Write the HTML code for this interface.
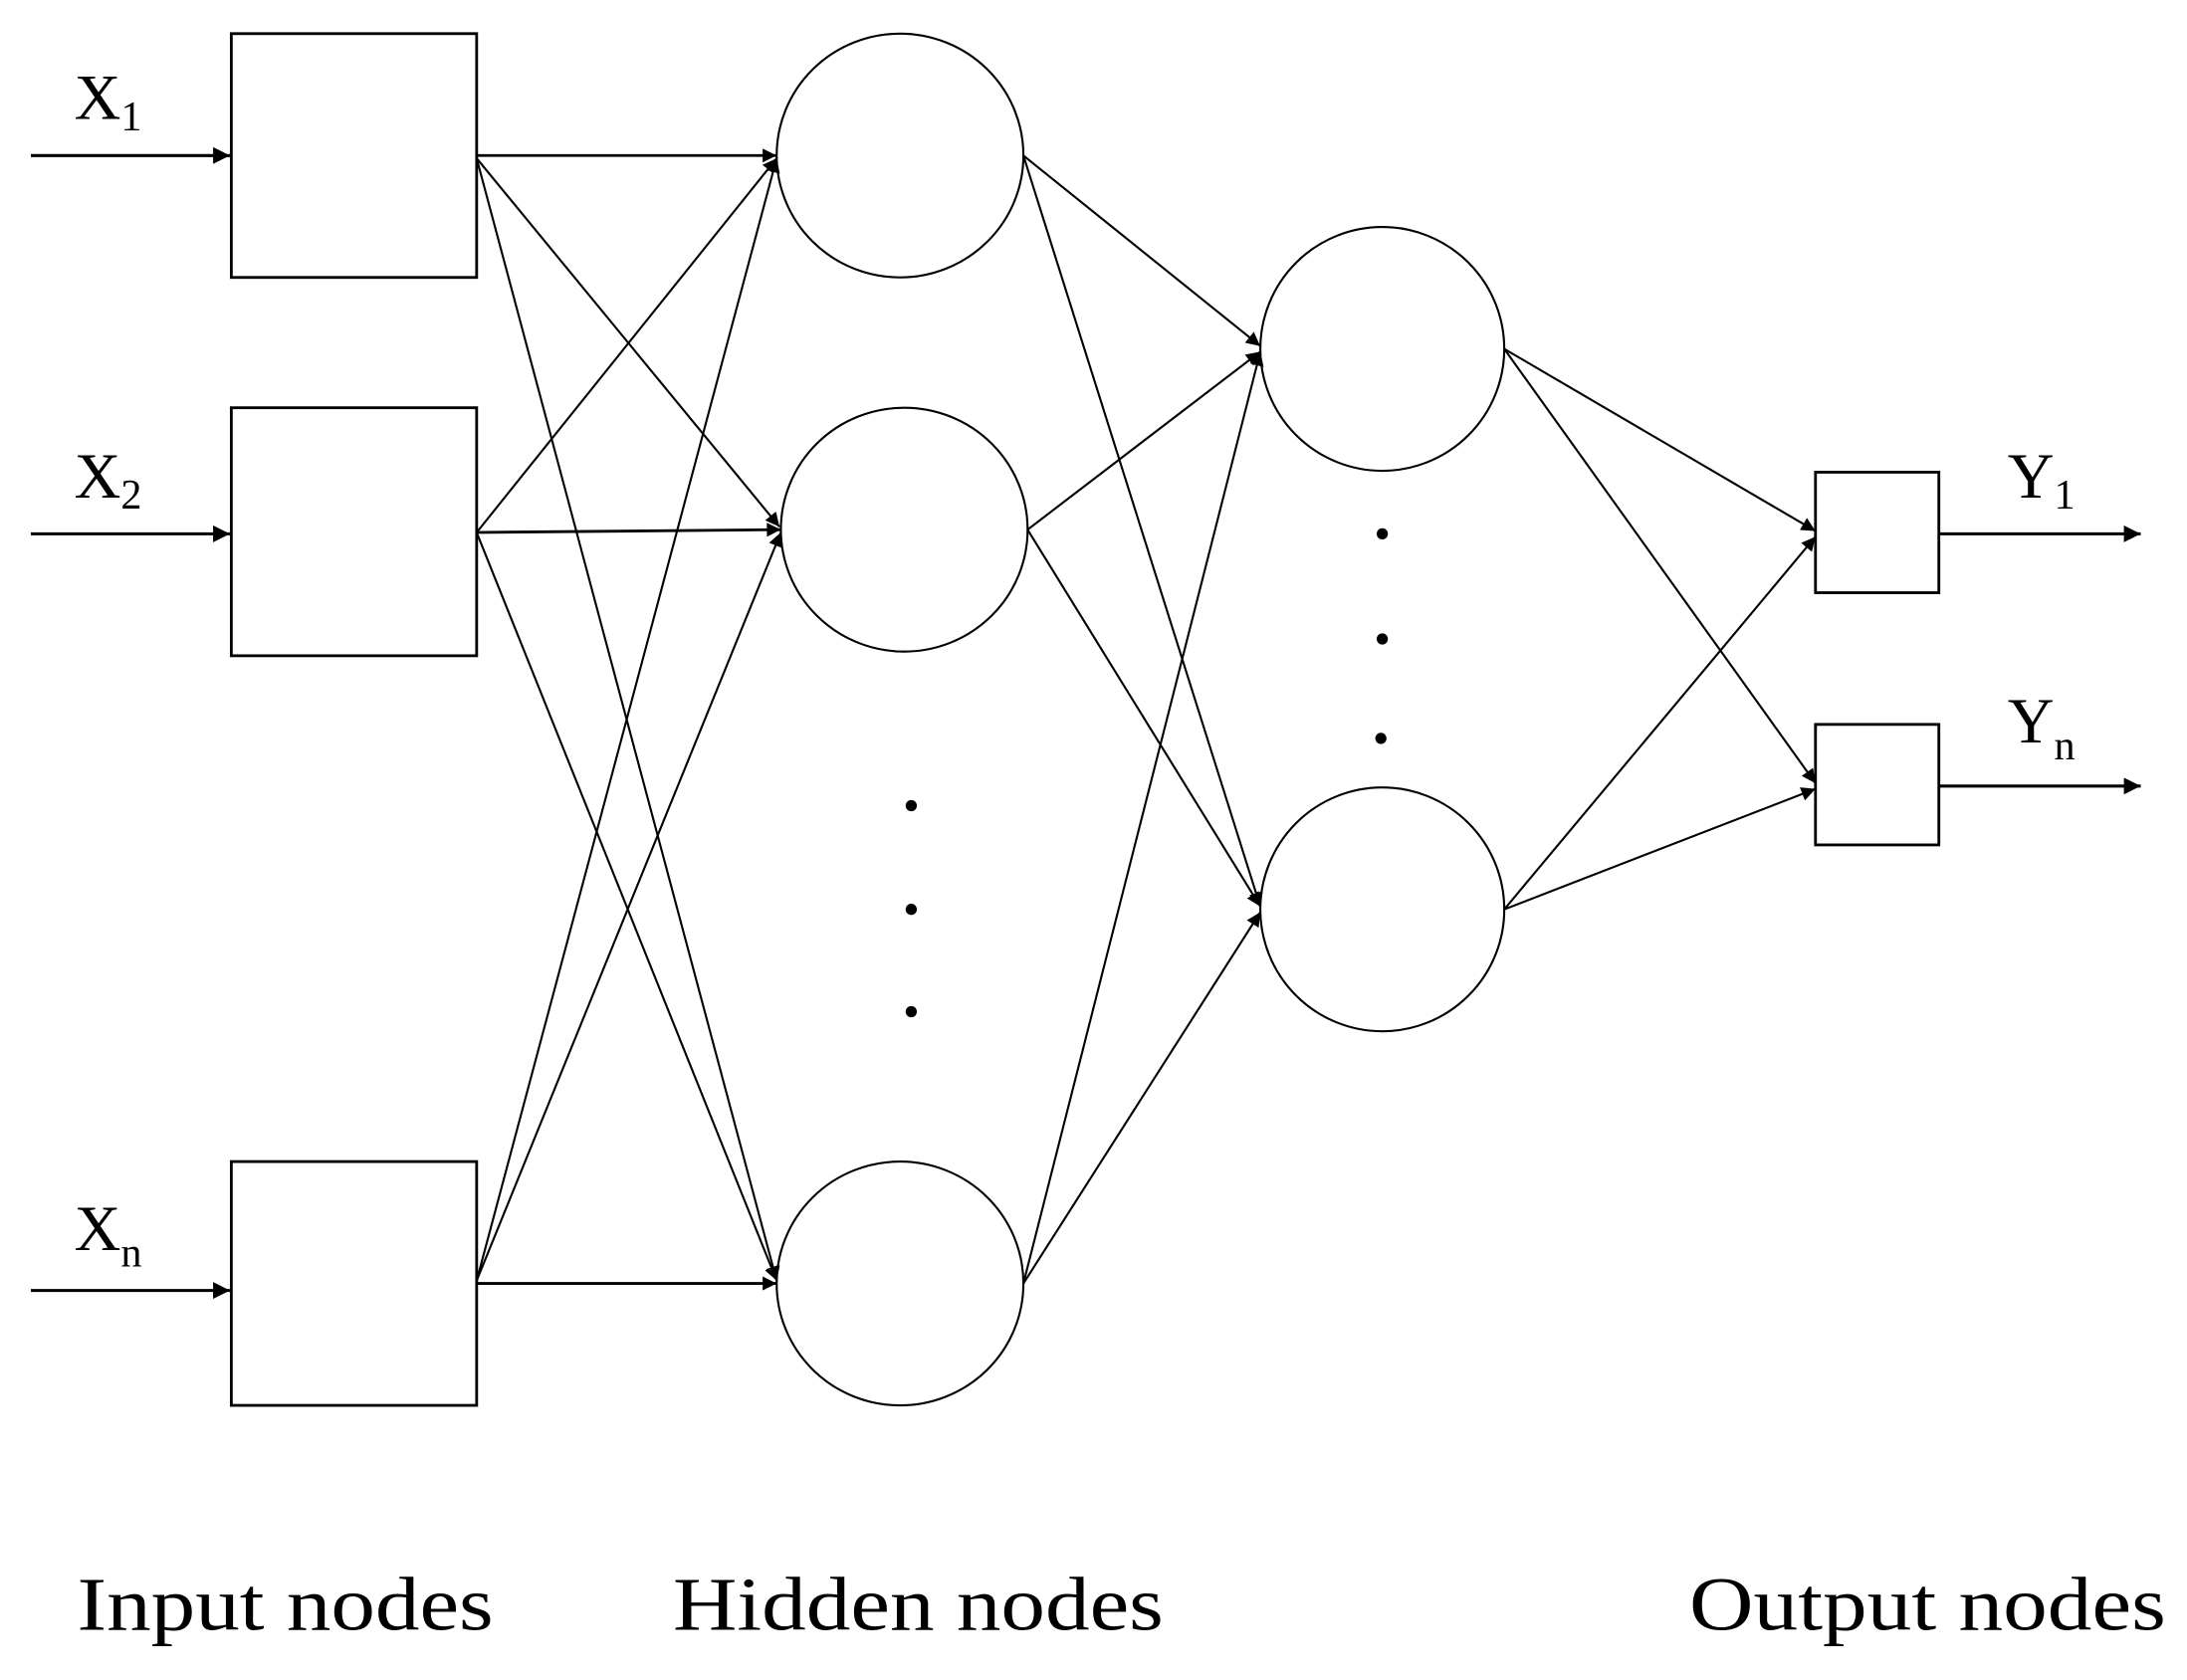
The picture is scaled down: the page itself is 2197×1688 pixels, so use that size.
<!DOCTYPE html>
<html><head><meta charset="utf-8"><style>html,body{margin:0;padding:0;background:#fff}svg{display:block}</style></head>
<body>
<svg width="2197" height="1688" viewBox="0 0 1560 1199" preserveAspectRatio="none" xmlns="http://www.w3.org/2000/svg">
<defs>
<marker id="a" viewBox="0 0 10 10" refX="10" refY="5" markerWidth="12" markerHeight="10" markerUnits="userSpaceOnUse" orient="auto"><path d="M0,0 L10,5 L0,10 z" fill="#000"/></marker>
<marker id="b" viewBox="0 0 10 10" refX="10" refY="5" markerWidth="14" markerHeight="12" markerUnits="userSpaceOnUse" orient="auto"><path d="M0,0 L10,5 L0,10 z" fill="#000"/></marker>
</defs>
<g fill="none" stroke="#000">
<rect x="165" y="24" width="175" height="174" stroke-width="2"/>
<rect x="165" y="291" width="175" height="177" stroke-width="2"/>
<rect x="165" y="829" width="175" height="174" stroke-width="2"/>
<ellipse cx="642" cy="111" rx="88" ry="87" stroke-width="1.5"/>
<ellipse cx="645" cy="378" rx="88" ry="87" stroke-width="1.5"/>
<ellipse cx="642" cy="916" rx="88" ry="87" stroke-width="1.5"/>
<ellipse cx="986" cy="249" rx="87" ry="87" stroke-width="1.5"/>
<ellipse cx="986" cy="649" rx="87" ry="87" stroke-width="1.5"/>
<rect x="1295" y="337" width="88" height="86" stroke-width="2"/>
<rect x="1295" y="517" width="88" height="86" stroke-width="2"/>
</g>
<g stroke="#000" stroke-width="2.2" marker-end="url(#b)">
<line x1="22" y1="111" x2="164" y2="111"/>
<line x1="22" y1="381" x2="164" y2="381"/>
<line x1="22" y1="921" x2="164" y2="921"/>
<line x1="1383" y1="381" x2="1527" y2="381"/>
<line x1="1383" y1="561" x2="1527" y2="561"/>
</g>
<g stroke="#000" stroke-width="1.5" marker-end="url(#a)">
<line x1="340" y1="111" x2="554" y2="111" stroke-width="2"/>
<line x1="340" y1="113" x2="556" y2="376"/>
<line x1="340" y1="113" x2="554" y2="914"/>
<line x1="340" y1="380" x2="554" y2="113"/>
<line x1="340" y1="380" x2="557" y2="378" stroke-width="2"/>
<line x1="340" y1="380" x2="554" y2="914"/>
<line x1="340" y1="916" x2="554" y2="916" stroke-width="2"/>
<line x1="340" y1="914" x2="554" y2="113"/>
<line x1="340" y1="914" x2="557" y2="380"/>
<line x1="730" y1="111" x2="899" y2="247"/>
<line x1="730" y1="111" x2="899" y2="647"/>
<line x1="733" y1="378" x2="899" y2="251"/>
<line x1="733" y1="378" x2="899" y2="647"/>
<line x1="730" y1="916" x2="899" y2="251"/>
<line x1="730" y1="916" x2="899" y2="651"/>
<line x1="1073" y1="249" x2="1295" y2="379"/>
<line x1="1073" y1="249" x2="1295" y2="559"/>
<line x1="1073" y1="649" x2="1295" y2="383"/>
<line x1="1073" y1="649" x2="1295" y2="563"/>
</g>
<g fill="#000">
<circle cx="650" cy="575" r="4"/><circle cx="650" cy="649" r="4"/><circle cx="650" cy="722" r="4"/>
<circle cx="986" cy="381" r="4"/><circle cx="986" cy="456" r="4"/><circle cx="985" cy="527" r="4"/>
</g>
<g font-family="Liberation Serif, serif" fill="#000">
<text x="53" y="85" font-size="46">X<tspan font-size="30" dy="8">1</tspan></text>
<text x="53" y="355" font-size="46">X<tspan font-size="30" dy="8">2</tspan></text>
<text x="53" y="892" font-size="46">X<tspan font-size="30" dy="12">n</tspan></text>
<text x="1432" y="355" font-size="46">Y<tspan font-size="30" dy="8">1</tspan></text>
<text x="1432" y="530" font-size="46">Y<tspan font-size="30" dy="12">n</tspan></text>
<text x="55" y="1163" font-size="54" textLength="297" lengthAdjust="spacingAndGlyphs">Input nodes</text>
<text x="480" y="1163" font-size="54" textLength="350" lengthAdjust="spacingAndGlyphs">Hidden nodes</text>
<text x="1205" y="1163" font-size="54" textLength="340" lengthAdjust="spacingAndGlyphs">Output nodes</text>
</g>
</svg>
</body></html>
